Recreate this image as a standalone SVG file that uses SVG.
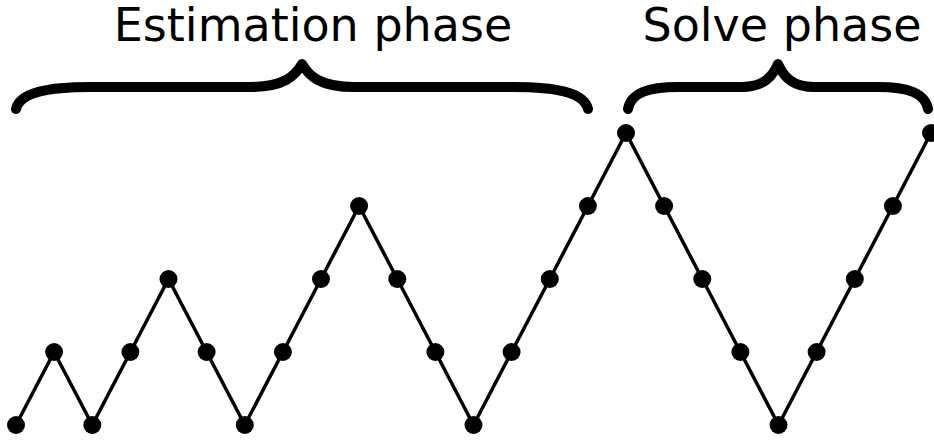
<svg xmlns="http://www.w3.org/2000/svg" width="934" height="440" viewBox="0 0 934 440">
  <style>
    .label { font-family: "DejaVu Sans", sans-serif; font-size: 46px; fill: #000; text-anchor: middle; }
    .brace { fill: none; stroke: #000; stroke-width: 10; stroke-linecap: round; stroke-linejoin: round; }
    .edge { fill: none; stroke: #000; stroke-width: 3.5; stroke-linejoin: miter; }
    .node { fill: #000; }
  </style>

  <!-- Phase labels and braces -->
  <g id="estimation-phase">
    <text class="label" x="313" y="41">Estimation phase</text>
    <path class="brace" d="M16,109 C20,92 50,87 90,87 L250,87 C284,87 295,76 302,64 C309,76 320,87 354,87 L514,87 C554,87 584,92 588,109"/>
  </g>
  <g id="solve-phase">
    <text class="label" x="782" y="41">Solve phase</text>
    <path class="brace" d="M628,109 C631,93 648,87 678,87 L742,87 C764,87 773,76 778,64 C783,76 792,87 814,87 L878,87 C908,87 925,93 928,109"/>
  </g>

  <!-- Zig-zag connectors -->
  <g id="connectors">
    <polyline class="edge" points="16,425 54.1,352 92.3,425 130.4,352 168.5,279 206.6,352 244.8,425 282.9,352 321,279 359.1,206 397.3,279 435.4,352 473.5,425 511.6,352 549.8,279 587.9,206 626,133 664.1,206 702.3,279 740.4,352 778.5,425 816.6,352 854.8,279 892.9,206 931,133"/>
  </g>

  <!-- Points -->
  <g id="points">
    <circle id="p0" class="node" cx="16" cy="425" r="9"/>
    <circle id="p1" class="node" cx="54.1" cy="352" r="9"/>
    <circle id="p2" class="node" cx="92.3" cy="425" r="9"/>
    <circle id="p3" class="node" cx="130.4" cy="352" r="9"/>
    <circle id="p4" class="node" cx="168.5" cy="279" r="9"/>
    <circle id="p5" class="node" cx="206.6" cy="352" r="9"/>
    <circle id="p6" class="node" cx="244.8" cy="425" r="9"/>
    <circle id="p7" class="node" cx="282.9" cy="352" r="9"/>
    <circle id="p8" class="node" cx="321" cy="279" r="9"/>
    <circle id="p9" class="node" cx="359.1" cy="206" r="9"/>
    <circle id="p10" class="node" cx="397.3" cy="279" r="9"/>
    <circle id="p11" class="node" cx="435.4" cy="352" r="9"/>
    <circle id="p12" class="node" cx="473.5" cy="425" r="9"/>
    <circle id="p13" class="node" cx="511.6" cy="352" r="9"/>
    <circle id="p14" class="node" cx="549.8" cy="279" r="9"/>
    <circle id="p15" class="node" cx="587.9" cy="206" r="9"/>
    <circle id="p16" class="node" cx="626" cy="133" r="9"/>
    <circle id="p17" class="node" cx="664.1" cy="206" r="9"/>
    <circle id="p18" class="node" cx="702.3" cy="279" r="9"/>
    <circle id="p19" class="node" cx="740.4" cy="352" r="9"/>
    <circle id="p20" class="node" cx="778.5" cy="425" r="9"/>
    <circle id="p21" class="node" cx="816.6" cy="352" r="9"/>
    <circle id="p22" class="node" cx="854.8" cy="279" r="9"/>
    <circle id="p23" class="node" cx="892.9" cy="206" r="9"/>
    <circle id="p24" class="node" cx="931" cy="133" r="9"/>
  </g>
</svg>
